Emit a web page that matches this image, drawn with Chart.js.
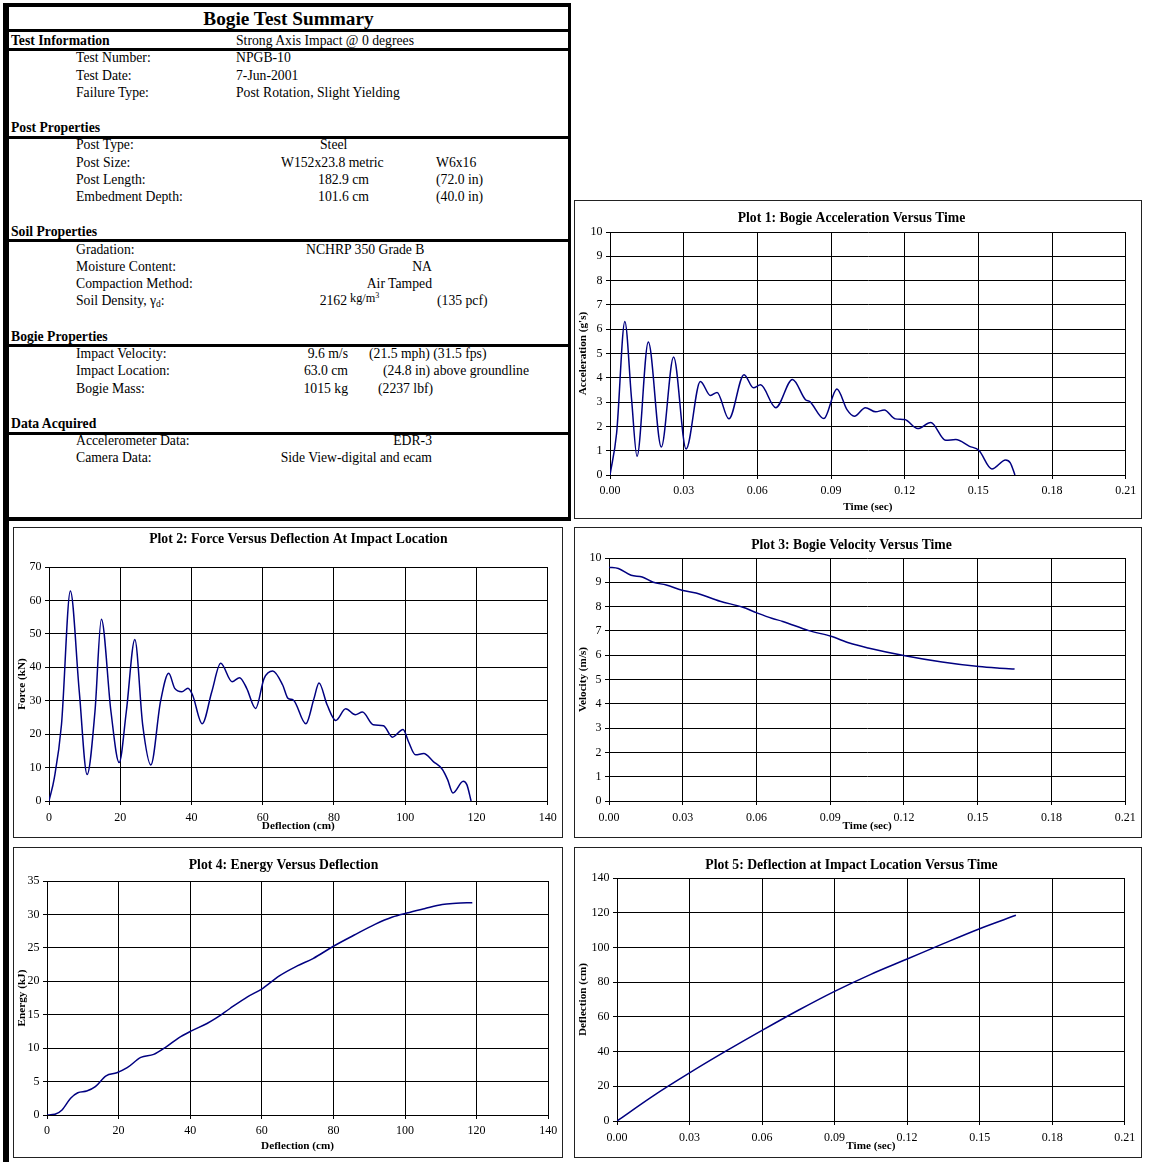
<!DOCTYPE html>
<html><head><meta charset="utf-8">
<script src="https://cdn.jsdelivr.net/npm/chart.js@4.4.1/dist/chart.umd.min.js"></script>
<style>
html,body{margin:0;padding:0;background:#fff;}
body{width:1156px;height:1162px;position:relative;overflow:hidden;font-family:'Liberation Serif','Times New Roman',serif;color:#000;}
.ln{position:absolute;background:#000;}
.t{position:absolute;font-size:13.7px;line-height:16px;height:16px;white-space:nowrap;}
.b{font-weight:bold;}
.box{position:absolute;border:1px solid #222;box-sizing:border-box;}
canvas{position:absolute;}
</style></head>
<body>
<!-- summary table frame -->
<div class="ln" style="left:3px;top:3px;width:6px;height:1159px;"></div>
<div class="ln" style="left:3px;top:3px;width:568px;height:4px;"></div>
<div class="ln" style="left:568px;top:3px;width:3px;height:518px;"></div>
<div class="ln" style="left:3px;top:29px;width:568px;height:3px;"></div>
<div class="ln" style="left:3px;top:48px;width:568px;height:3px;"></div>
<div class="ln" style="left:3px;top:136px;width:568px;height:3px;"></div>
<div class="ln" style="left:3px;top:239px;width:568px;height:3px;"></div>
<div class="ln" style="left:3px;top:344px;width:568px;height:3px;"></div>
<div class="ln" style="left:3px;top:432px;width:568px;height:3px;"></div>
<div class="ln" style="left:3px;top:517px;width:568px;height:4px;"></div>

<div class="t b" style="left:9px;width:559px;top:8px;height:22px;line-height:22px;font-size:19.3px;text-align:center;">Bogie Test Summary</div>

<div class="t b" style="left:11px;top:33px;">Test Information</div>
<div class="t b" style="left:11px;top:120px;">Post Properties</div>
<div class="t b" style="left:11px;top:224px;">Soil Properties</div>
<div class="t b" style="left:11px;top:329px;">Bogie Properties</div>
<div class="t b" style="left:11px;top:416px;">Data Acquired</div>

<div class="t" style="left:76px;top:50px;">Test Number:</div>
<div class="t" style="left:76px;top:68px;">Test Date:</div>
<div class="t" style="left:76px;top:85px;">Failure Type:</div>
<div class="t" style="left:76px;top:137px;">Post Type:</div>
<div class="t" style="left:76px;top:155px;">Post Size:</div>
<div class="t" style="left:76px;top:172px;">Post Length:</div>
<div class="t" style="left:76px;top:189px;">Embedment Depth:</div>
<div class="t" style="left:76px;top:242px;">Gradation:</div>
<div class="t" style="left:76px;top:259px;">Moisture Content:</div>
<div class="t" style="left:76px;top:276px;">Compaction Method:</div>
<div class="t" style="left:76px;top:293px;">Soil Density, γ<span style="font-size:9.5px;position:relative;top:2px;">d</span>:</div>
<div class="t" style="left:76px;top:346px;">Impact Velocity:</div>
<div class="t" style="left:76px;top:363px;">Impact Location:</div>
<div class="t" style="left:76px;top:381px;">Bogie Mass:</div>
<div class="t" style="left:76px;top:433px;">Accelerometer Data:</div>
<div class="t" style="left:76px;top:450px;">Camera Data:</div>

<div class="t" style="left:236px;top:33px;">Strong Axis Impact @ 0 degrees</div>
<div class="t" style="left:236px;top:50px;">NPGB-10</div>
<div class="t" style="left:236px;top:68px;">7-Jun-2001</div>
<div class="t" style="left:236px;top:85px;">Post Rotation, Slight Yielding</div>
<div class="t" style="left:320px;top:137px;">Steel</div>
<div class="t" style="left:281px;top:155px;">W152x23.8 metric</div>
<div class="t" style="left:436px;top:155px;">W6x16</div>
<div class="t" style="right:787px;top:172px;">182.9 cm</div>
<div class="t" style="left:436px;top:172px;">(72.0 in)</div>
<div class="t" style="right:787px;top:189px;">101.6 cm</div>
<div class="t" style="left:436px;top:189px;">(40.0 in)</div>
<div class="t" style="left:306px;top:242px;">NCHRP 350 Grade B</div>
<div class="t" style="right:724px;top:259px;">NA</div>
<div class="t" style="right:724px;top:276px;">Air Tamped</div>
<div class="t" style="right:809px;top:293px;">2162</div>
<div class="t" style="left:350px;top:290px;font-size:12.3px;">kg/m<span style="font-size:8px;position:relative;top:-4px;">3</span></div>
<div class="t" style="left:437px;top:293px;">(135 pcf)</div>
<div class="t" style="right:808px;top:346px;">9.6 m/s</div>
<div class="t" style="left:369px;top:346px;">(21.5 mph) (31.5 fps)</div>
<div class="t" style="right:808px;top:363px;">63.0 cm</div>
<div class="t" style="left:383px;top:363px;">(24.8 in) above groundline</div>
<div class="t" style="right:808px;top:381px;">1015 kg</div>
<div class="t" style="left:378px;top:381px;">(2237 lbf)</div>
<div class="t" style="right:724px;top:433px;">EDR-3</div>
<div class="t" style="right:724px;top:450px;">Side View-digital and ecam</div>

<!-- plot boxes -->
<div class="box" style="left:574px;top:200px;width:568px;height:319px;"></div>
<div class="box" style="left:13px;top:527px;width:550px;height:311px;"></div>
<div class="box" style="left:574px;top:527px;width:568px;height:311px;"></div>
<div class="box" style="left:13px;top:847px;width:550px;height:311px;"></div>
<div class="box" style="left:574px;top:847px;width:568px;height:311px;"></div>

<canvas id="p1"></canvas>
<canvas id="p2"></canvas>
<canvas id="p3"></canvas>
<canvas id="p4"></canvas>
<canvas id="p5"></canvas>

<script>
// ---------- data ----------
const accTime = [0,0.0027,0.00605,0.0088,0.011,0.0156,0.0209,0.0259,0.031,0.0368,0.0409,0.0436,0.0484,0.0546,0.0584,0.0613,0.0675,0.0743,0.0796,0.0814,0.0871,0.0924,0.0965,0.0995,0.104,0.1082,0.1117,0.1162,0.12,0.1253,0.1306,0.1367,0.1408,0.1464,0.1502,0.1555,0.1611,0.163,0.1649];
const accG = [0,1.73,6.32,3.1,0.77,5.47,1.15,4.86,1.07,3.85,3.27,3.4,2.31,4.13,3.59,3.71,2.77,3.93,3.1,3.02,2.32,3.54,2.69,2.42,2.77,2.6,2.68,2.31,2.28,1.91,2.16,1.43,1.46,1.18,1.02,0.25,0.62,0.5,0];

const forceDefl = [0,1.5,3.5,6.0,8.5,10.7,12.9,14.7,17.4,19.7,21.7,24.1,26.3,28.6,31.3,33.6,35.3,37.3,39.0,40.3,43.0,45.7,48.2,51.4,53.5,55.5,58.0,60.4,62.8,65.6,67.1,68.6,72.1,74.4,75.8,78.1,80.5,83.3,86.0,88.0,91.0,93.9,96.4,99.4,100.9,102.9,105.2,107.9,110.4,111.9,113.4,116.3,117.3,118.5];
const forceKN = [0,6.9,22.8,62.8,32.7,7.9,26.7,54.4,26.7,11.5,26.7,48.3,22.8,10.8,29.7,38.2,33.7,32.7,33.7,31.7,23.1,32.7,41.2,35.7,36.9,33.7,27.7,36.7,38.9,34.7,30.7,30.2,23.1,30.7,35.3,28.7,24.1,27.6,25.8,26.6,22.8,22.5,19.1,21.4,17.8,13.8,14.2,11.8,9.5,6.4,2.4,5.9,4.9,0];

const velTime = [0,0.0038,0.009,0.0135,0.018,0.0233,0.0301,0.0354,0.0452,0.0542,0.0602,0.0662,0.0707,0.0813,0.0903,0.0978,0.1054,0.1204,0.1355,0.1505,0.158,0.165];
const velMS = [9.62,9.57,9.29,9.22,9.0,8.89,8.66,8.56,8.22,7.98,7.74,7.52,7.39,7.01,6.78,6.5,6.3,5.98,5.72,5.53,5.47,5.43];

const energyDefl = [0,2.2,4.2,6.6,8.6,11.1,13.5,16.5,19.5,22.4,26.2,29.8,33.3,36.8,40.2,44.7,47.1,51.1,56.0,60.2,64.9,69.9,74.3,80.0,85.7,91.6,96.5,100.5,105.4,110.4,114.3,118.8];
const energyKJ = [0,0.1,0.75,2.5,3.33,3.58,4.23,5.87,6.32,7.07,8.61,9.06,10.2,11.55,12.54,13.69,14.44,15.93,17.67,18.92,20.81,22.3,23.4,25.24,26.88,28.52,29.62,30.21,30.86,31.5,31.66,31.76];

const deflTime = [0,0.015,0.03,0.045,0.06,0.075,0.09,0.105,0.12,0.135,0.15,0.165];
const deflCM = [0,14.5,27.7,40.2,52.2,63.8,74.7,84.5,93.3,102.2,110.8,118.5];

const timeTicks = [0,0.03,0.06,0.09,0.12,0.15,0.18,0.21];
const timeTickLabels = ['0.00','0.03','0.06','0.09','0.12','0.15','0.18','0.21'];
const deflTicks = [0,20,40,60,80,100,120,140];
const deflTickLabels = ['0','20','40','60','80','100','120','140'];
const accTicks = [0,1,2,3,4,5,6,7,8,9,10];
const forceTicks = [0,10,20,30,40,50,60,70];
const velTicks = [0,1,2,3,4,5,6,7,8,9,10];
const energyTicks = [0,5,10,15,20,25,30,35];
const deflYTicks = [0,20,40,60,80,100,120,140];

// ---------- drawing ----------
const FF = "'Liberation Serif','Times New Roman',serif";
const TF = 13.7, AF = 11.2, KF = 12;

function makePlot(id, s) {
  const cl = s.box.l + 1, ct = s.box.t + 1;
  const cw = s.box.r - s.box.l - 1, ch = s.box.b - s.box.t - 1;
  const cv = document.getElementById(id);
  cv.width = cw; cv.height = ch;
  cv.style.left = cl + 'px'; cv.style.top = ct + 'px';
  cv.style.width = cw + 'px'; cv.style.height = ch + 'px';
  const tLH = TF * 1.2, aLH = AF * 1.2, kLH = KF * 1.2;
  const padRight = cl + cw - s.area.r;
  const yW = s.area.l - cl;
  const xH = ct + ch - s.area.b;
  const tpTop = s.titleCy - ct - tLH / 2;
  const tpBot = (s.area.t - ct) - tLH - tpTop;
  const ytp = s.yTitleCx - cl - aLH / 2;
  const xpb = ct + ch - s.xTitleCy - aLH / 2;
  const xPad = s.xTickCy - s.area.b - 4 - kLH / 2;
  const pts = s.xs.map((x, i) => ({x: x, y: s.ys[i]}));
  new Chart(cv, {
    type: 'line',
    data: {datasets: [{data: pts, borderColor: '#000080', borderWidth: 1.5, pointRadius: 0,
      cubicInterpolationMode: 'monotone', fill: false}]},
    options: {
      responsive: false, animation: false, devicePixelRatio: 1,
      layout: {padding: {left: 0, right: padRight, top: 0, bottom: 0}},
      plugins: {
        legend: {display: false}, tooltip: {enabled: false},
        title: {display: true, text: s.title, color: '#000', fullSize: s.titleFull !== false,
          font: {size: TF, weight: 'bold', family: FF, lineHeight: 1.2},
          padding: {top: tpTop, bottom: tpBot}}
      },
      scales: {
        x: {type: 'linear', min: s.xTicks[0], max: s.xTicks[s.xTicks.length - 1],
          afterBuildTicks: sc => { sc.ticks = s.xTicks.map(v => ({value: v})); },
          afterFit: sc => { sc.height = xH; },
          grid: {color: '#000', lineWidth: 1, tickLength: 4, drawTicks: true},
          border: {color: '#000', width: 1},
          ticks: {color: '#000', font: {size: KF, family: FF, lineHeight: 1.2}, padding: xPad,
            maxRotation: 0, minRotation: 0, autoSkip: false, callback: (v, i) => s.xLabels[i]},
          title: {display: true, text: s.xTitle, color: '#000',
            font: {size: AF, weight: 'bold', family: FF, lineHeight: 1.2}, padding: {top: 0, bottom: xpb}}
        },
        y: {type: 'linear', min: s.yTicks[0], max: s.yTicks[s.yTicks.length - 1],
          afterBuildTicks: sc => { sc.ticks = s.yTicks.map(v => ({value: v})); },
          afterFit: sc => { sc.width = yW; },
          grid: {color: '#000', lineWidth: 1, tickLength: 4, drawTicks: true},
          border: {color: '#000', width: 1},
          ticks: {color: '#000', font: {size: KF, family: FF, lineHeight: 1.2}, padding: 3.5,
            autoSkip: false, callback: v => String(v)},
          title: {display: true, text: s.yTitle, color: '#000',
            font: {size: AF, weight: 'bold', family: FF, lineHeight: 1.2}, padding: {top: ytp, bottom: 0}}
        }
      }
    }
  });
}

makePlot('p1', {box: {l: 574, t: 200, r: 1141, b: 518}, area: {l: 610, r: 1128, t: 232, b: 475},
  title: 'Plot 1: Bogie Acceleration Versus Time', titleCy: 218, yTitleCx: 583, xTitleCy: 507, xTickCy: 491,
  xTitle: 'Time (sec)', yTitle: "Acceleration (g's)", xTicks: timeTicks, xLabels: timeTickLabels, yTicks: accTicks,
  xs: accTime, ys: accG});
makePlot('p2', {box: {l: 13, t: 527, r: 562, b: 837}, area: {l: 49, r: 552, t: 567, b: 801}, titleFull: false,
  title: 'Plot 2: Force Versus Deflection At Impact Location', titleCy: 539.5, yTitleCx: 22.5, xTitleCy: 826.5, xTickCy: 817.5,
  xTitle: 'Deflection (cm)', yTitle: 'Force (kN)', xTicks: deflTicks, xLabels: deflTickLabels, yTicks: forceTicks,
  xs: forceDefl, ys: forceKN});
makePlot('p3', {box: {l: 574, t: 527, r: 1141, b: 837}, area: {l: 609, r: 1128, t: 558, b: 801},
  title: 'Plot 3: Bogie Velocity Versus Time', titleCy: 545.5, yTitleCx: 583, xTitleCy: 826.5, xTickCy: 817.5,
  xTitle: 'Time (sec)', yTitle: 'Velocity (m/s)', xTicks: timeTicks, xLabels: timeTickLabels, yTicks: velTicks,
  xs: velTime, ys: velMS});
makePlot('p4', {box: {l: 13, t: 847, r: 562, b: 1157}, area: {l: 47, r: 553, t: 881, b: 1115},
  title: 'Plot 4: Energy Versus Deflection', titleCy: 865, yTitleCx: 22.5, xTitleCy: 1146.5, xTickCy: 1131,
  xTitle: 'Deflection (cm)', yTitle: 'Energy (kJ)', xTicks: deflTicks, xLabels: deflTickLabels, yTicks: energyTicks,
  xs: energyDefl, ys: energyKJ});
makePlot('p5', {box: {l: 574, t: 847, r: 1141, b: 1157}, area: {l: 617, r: 1128, t: 878, b: 1121},
  title: 'Plot 5: Deflection at Impact Location Versus Time', titleCy: 865, yTitleCx: 583, xTitleCy: 1146.5, xTickCy: 1138,
  xTitle: 'Time (sec)', yTitle: 'Deflection (cm)', xTicks: timeTicks, xLabels: timeTickLabels, yTicks: deflYTicks,
  xs: deflTime, ys: deflCM});
</script>
</body></html>
